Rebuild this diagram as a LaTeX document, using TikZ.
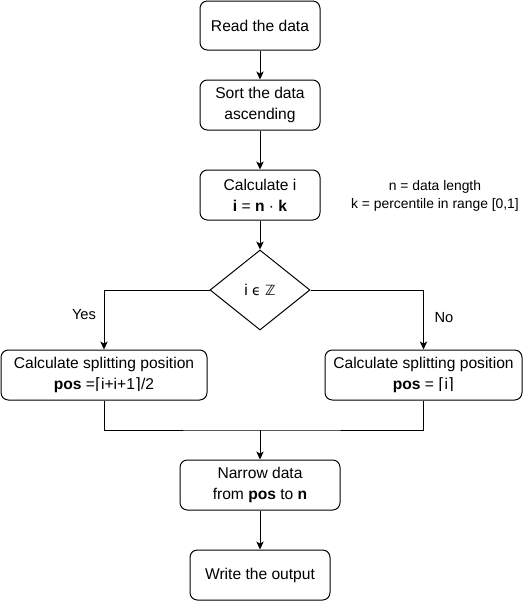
\documentclass[tikz,border=0pt]{standalone}
\usepackage{fontspec}
\setmainfont{Liberation Sans}
\newfontfamily\symfont{DejaVu Sans}
\usetikzlibrary{shapes.geometric,arrows.meta}
\begin{document}
\begin{tikzpicture}[x=0.75pt,y=-0.75pt,
  font=\fontsize{11.7pt}{15.75pt}\selectfont,
  lbl/.style={font=\fontsize{11pt}{13pt}\selectfont},
  box/.style={draw,rounded corners=5.5pt,line width=0.75pt,align=center,inner sep=0pt},
  dia/.style={draw,diamond,line width=0.75pt,inner sep=0pt},
  conn/.style={line width=0.75pt,-{Stealth[length=6pt,width=5.5pt,inset=1.5pt]}},
  line/.style={line width=0.75pt}]
\useasboundingbox (0,0) rectangle (531,601);
\node[box,minimum width=90pt,minimum height=36.75pt] (read) at (260,25.5) {Read the data};
\node[box,minimum width=90pt,minimum height=37.5pt] (sort) at (260,105) {Sort the data\\ascending};
\node[box,minimum width=90pt,minimum height=37.5pt] (calc) at (260,195) {Calculate i\\\textbf{i} = \textbf{n} · \textbf{k}};
\node[align=center,font=\fontsize{10.4pt}{13.5pt}\selectfont] (note) at (435,196) {n = data length\\k = percentile in range [0,1]};
\node[dia,minimum width=75pt,minimum height=60pt] (dec) at (260,290) {};
\node (dectext) at (260,290) {i {\symfont\fontsize{10.5pt}{12pt}\selectfont ϵ ℤ}};
\node[box,minimum width=154.5pt,minimum height=37.5pt] (left) at (104,375) {Calculate splitting position\\\textbf{pos} ={\symfont ⌈}i+i+1{\symfont ⌉}/2};
\node[box,minimum width=147.75pt,minimum height=37.5pt] (right) at (423.5,375) {Calculate splitting position\\\textbf{pos} = {\symfont ⌈}i{\symfont ⌉}};
\node[box,minimum width=120pt,minimum height=37.5pt] (narrow) at (260,485) {Narrow data\\from \textbf{pos} to \textbf{n}};
\node[box,minimum width=105pt,minimum height=37.5pt] (write) at (260,575) {Write the output};
\coordinate (merge) at (260,430);
\node[lbl] (yes) at (84,315) {Yes};
\node[lbl] (no) at (444,318) {No};
\draw[conn] (read) -- (sort);
\draw[conn] (sort) -- (calc);
\draw[conn] (calc) -- (dec.north);
\draw[conn] (dec.west) -| (left.north);
\draw[conn] (dec.east) -| (right.north);
\draw[line] (left.south) |- (merge) -| (right.south);
\draw[conn] (merge) -- (narrow);
\draw[conn] (narrow) -- (write);
\end{tikzpicture}
\end{document}
